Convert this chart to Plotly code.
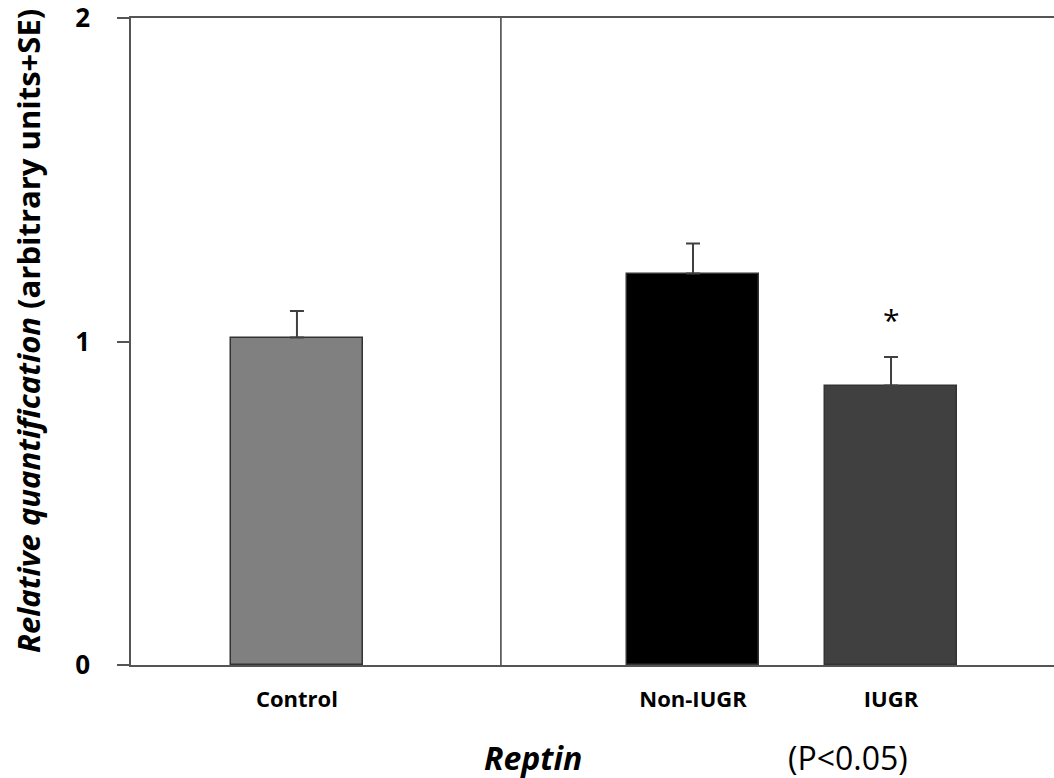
import plotly.graph_objects as go

categories = ["Control", " ", "Non-IUGR", "IUGR"]
bar_categories = ["Control", "Non-IUGR", "IUGR"]
values = [1.012, 1.21, 0.864]
errors = [0.082, 0.093, 0.088]
colors = ["#808080", "#000000", "#404040"]
y_ticks = [0, 1, 2]
sig_label = "*"
sig_category = "IUGR"
sig_y = 1.068

FONT = "Open Sans"

# plot area in the page: x 131..1054, y 18..665 (body margin removed below)
W, H = 1054, 778
PL, PR, PT, PB = 131, 1054, 18, 665
PW, PH = PR - PL, PB - PT


def px(xp):
    return (xp - PL) / PW


def py(yp):
    return (PB - yp) / PH


fig = go.Figure()
fig.add_trace(go.Bar(
    x=bar_categories, y=values,
    marker=dict(color=colors, line=dict(color="#333333", width=1.5)),
    width=0.667,
    error_y=dict(type="data", symmetric=False, array=errors,
                 arrayminus=[0] * len(errors), color="#404040",
                 thickness=2, width=7),
    showlegend=False,
))

# divider between the control group and the Reptin groups
fig.add_shape(type="line", xref="x", yref="paper", x0=1.03, x1=1.03, y0=0, y1=1,
              line=dict(color="#404040", width=1.5))

fig.add_annotation(x=sig_category, y=sig_y, text=sig_label, showarrow=False,
                   xanchor="center", yanchor="middle",
                   font=dict(family=FONT, size=30, color="black"))

fig.add_annotation(xref="paper", yref="paper", x=px(533), y=py(757),
                   xanchor="center", yanchor="middle",
                   text="<b><i>Reptin</i></b>", showarrow=False,
                   font=dict(family=FONT, size=32, color="black"))
fig.add_annotation(xref="paper", yref="paper", x=px(848), y=py(757),
                   xanchor="center", yanchor="middle",
                   text="(P<0.05)", showarrow=False,
                   font=dict(family=FONT, size=32, color="black"))

fig.add_annotation(xref="paper", yref="paper", x=px(28), y=py(331),
                   xanchor="center", yanchor="middle", textangle=-90,
                   text="<b><i>Relative quantification</i> (arbitrary units+SE)</b>",
                   showarrow=False,
                   font=dict(family=FONT, size=31, color="black"))

fig.update_layout(
    width=W, height=H,
    margin=dict(l=PL, r=W - PR, t=PT, b=H - PB, autoexpand=False),
    plot_bgcolor="white", paper_bgcolor="white",
    bargap=0,
    xaxis=dict(
        type="category", categoryorder="array", categoryarray=categories,
        range=[-0.838, 3.823], automargin=False,
        showline=True, linecolor="#555555", linewidth=1.5, mirror=True,
        ticks="", showgrid=False, zeroline=False,
        tickfont=dict(family=FONT, size=22, color="black", weight="bold"),
        ticklabelstandoff=14,
    ),
    yaxis=dict(
        range=[0, 2], tickvals=y_ticks, automargin=False,
        showline=True, linecolor="#555555", linewidth=1.5,
        ticks="outside", ticklen=12, tickwidth=1.5, tickcolor="#555555",
        showgrid=False, zeroline=False,
        tickfont=dict(family=FONT, size=26, color="black", weight="bold"),
        ticklabelstandoff=22, ticklabeloverflow="allow",
    ),
)

fig.write_html("out.html",
               config={"displayModeBar": False},
               post_script="document.body.style.margin='0';"
                           "document.body.style.overflow='hidden';")
